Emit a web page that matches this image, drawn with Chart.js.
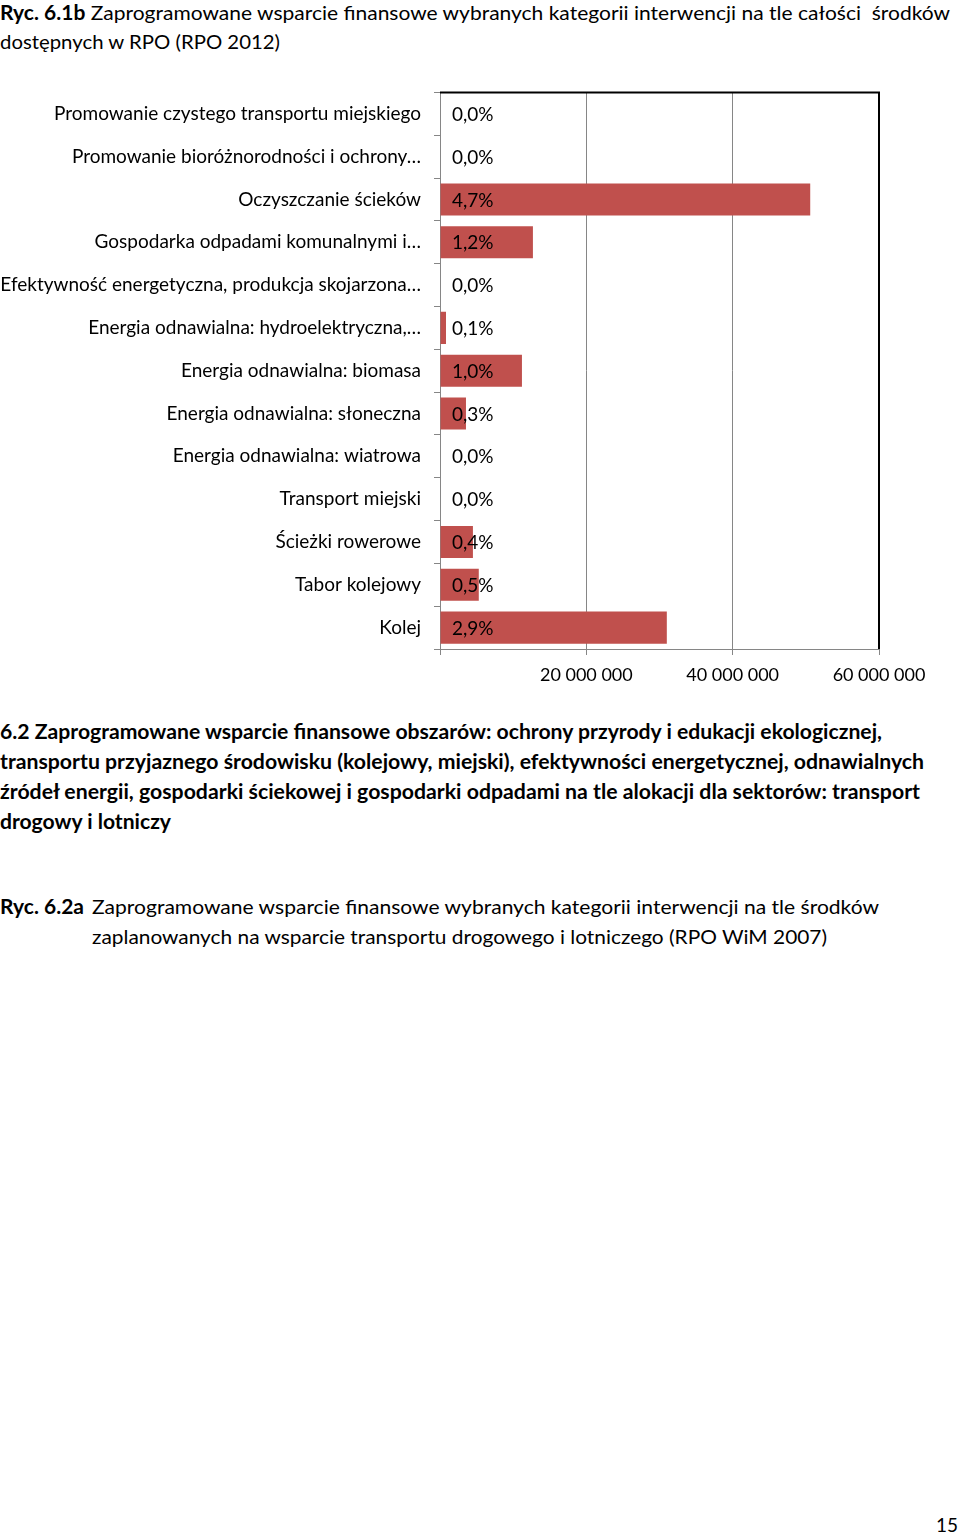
<!DOCTYPE html>
<html>
<head>
<meta charset="utf-8">
<script src="https://cdn.jsdelivr.net/npm/chart.js@4"></script>
<style>
  html, body { margin: 0; padding: 0; background: #fff; }
  body { width: 960px; height: 1534px; position: relative; overflow: hidden; font-family: Lato, "Open Sans", sans-serif; color: #000; }
  .ln { position: absolute; white-space: nowrap; font-size: 20px; line-height: 20px; transform-origin: 0 50%; }
  .b { font-weight: bold; }
  #chartBox { position: absolute; left: 0; top: 68px; width: 960px; height: 632px; }
</style>
</head>
<body>
<div class="ln" style="left:0;top:2px" data-w="950"><span class="b">Ryc. 6.1b</span> Zaprogramowane wsparcie finansowe wybranych kategorii interwencji na tle całości&nbsp; środków</div>
<div class="ln" style="left:0;top:31px" data-w="280">dostępnych w RPO (RPO 2012)</div>

<div id="chartBox"><canvas id="chart"></canvas></div>

<div class="ln b" style="left:0;top:721px" data-w="882">6.2 Zaprogramowane wsparcie finansowe obszarów: ochrony przyrody i edukacji ekologicznej,</div>
<div class="ln b" style="left:0;top:751px" data-w="924">transportu przyjaznego środowisku (kolejowy, miejski), efektywności energetycznej, odnawialnych</div>
<div class="ln b" style="left:0;top:781px" data-w="920">źródeł energii, gospodarki ściekowej i gospodarki odpadami na tle alokacji dla sektorów: transport</div>
<div class="ln b" style="left:0;top:811px" data-w="171">drogowy i lotniczy</div>

<div class="ln b" style="left:0;top:896px" data-w="84">Ryc. 6.2a</div>
<div class="ln" style="left:92px;top:896px" data-w="787">Zaprogramowane wsparcie finansowe wybranych kategorii interwencji na tle środków</div>
<div class="ln" style="left:92px;top:926px" data-w="735">zaplanowanych na wsparcie transportu drogowego i lotniczego (RPO WiM 2007)</div>

<div class="ln" style="left:936px;top:1514px" data-w="22">15</div>

<script>
const categories = [
  "Promowanie czystego transportu miejskiego",
  "Promowanie bioróżnorodności i ochrony…",
  "Oczyszczanie ścieków",
  "Gospodarka odpadami komunalnymi i…",
  "Efektywność energetyczna, produkcja skojarzona…",
  "Energia odnawialna: hydroelektryczna,…",
  "Energia odnawialna: biomasa",
  "Energia odnawialna: słoneczna",
  "Energia odnawialna: wiatrowa",
  "Transport miejski",
  "Ścieżki rowerowe",
  "Tabor kolejowy",
  "Kolej"
];
const amounts = [0, 0, 50600000, 12700000, 0, 820000, 11200000, 3550000, 0, 0, 4500000, 5300000, 31000000];
const shareLabels = ["0,0%", "0,0%", "4,7%", "1,2%", "0,0%", "0,1%", "1,0%", "0,3%", "0,0%", "0,0%", "0,4%", "0,5%", "2,9%"];
const xTicks = [0, 20000000, 40000000, 60000000];

// fit text lines to the widths measured on the reference
document.querySelectorAll(".ln").forEach((el) => {
  const w = el.getBoundingClientRect().width;
  const target = +el.dataset.w;
  el.style.transform = `scaleX(${target / w})`;
});

function fmt(v) {
  return String(v).replace(/\B(?=(\d{3})+(?!\d))/g, " ");
}

const shareLabelPlugin = {
  id: "shareLabels",
  afterDatasetsDraw(chart) {
    const ctx = chart.ctx;
    const meta = chart.getDatasetMeta(0);
    ctx.save();
    ctx.font = "19px Lato";
    ctx.fillStyle = "#000";
    ctx.textBaseline = "middle";
    ctx.textAlign = "left";
    meta.data.forEach((bar, i) => {
      ctx.fillText(shareLabels[i], chart.chartArea.left + 12, bar.y + 1);
    });
    ctx.restore();
  }
};

const framePlugin = {
  id: "frame",
  afterDraw(chart) {
    const { ctx, chartArea } = chart;
    ctx.save();
    ctx.strokeStyle = "#000";
    ctx.lineWidth = 2;
    ctx.beginPath();
    ctx.moveTo(chartArea.left, chartArea.top);
    ctx.lineTo(chartArea.right, chartArea.top);
    ctx.lineTo(chartArea.right, chartArea.bottom);
    ctx.stroke();
    ctx.restore();
  }
};

new Chart(document.getElementById("chart"), {
  type: "bar",
  data: {
    labels: categories,
    datasets: [{
      data: amounts,
      backgroundColor: "#C0504D",
      barPercentage: 0.75,
      categoryPercentage: 1.0
    }]
  },
  options: {
    indexAxis: "y",
    responsive: true,
    maintainAspectRatio: false,
    animation: false,
    layout: { padding: { top: 0, right: 81, left: 0, bottom: 0 } },
    plugins: { legend: { display: false }, tooltip: { enabled: false } },
    scales: {
      x: {
        min: 0,
        max: 60000000,
        afterBuildTicks: (scale) => { scale.ticks = xTicks.map((v) => ({ value: v })); },
        afterFit: (scale) => { scale.height = 51; },
        grid: { color: "#868686", lineWidth: 1, tickLength: 6, drawOnChartArea: true },
        border: { color: "#868686" },
        ticks: {
          color: "#000",
          font: { family: "Lato", size: 18 },
          padding: 9,
          callback: (v) => (v === 0 ? "" : fmt(v))
        }
      },
      y: {
        afterFit: (scale) => { scale.width = 440; },
        grid: { drawOnChartArea: false, color: "#868686", tickLength: 6 },
        border: { color: "#868686" },
        ticks: {
          color: "#000",
          font: { family: "Lato", size: 19 },
          padding: 13,
          autoSkip: false
        }
      }
    }
  },
  plugins: [shareLabelPlugin, framePlugin]
});
</script>
</body>
</html>
